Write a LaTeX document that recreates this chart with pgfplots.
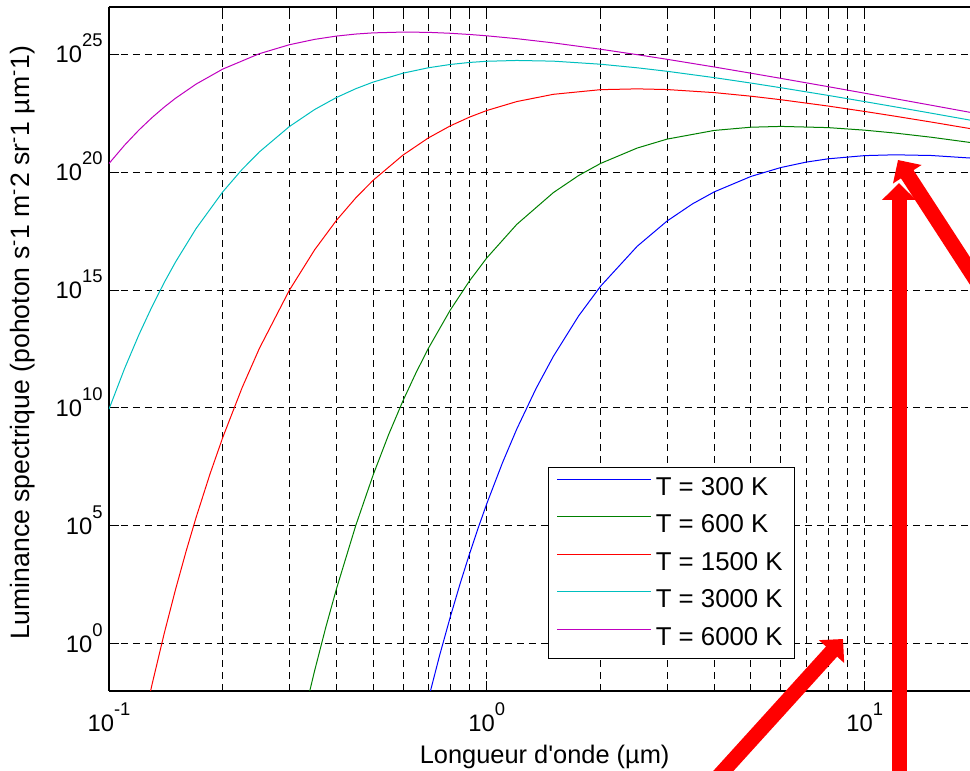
\documentclass[border=0pt]{standalone}
\usepackage{fontspec}
\setmainfont{Liberation Sans}[Ligatures=TeXOff]
\usepackage{pgfplots}
\pgfplotsset{compat=1.18}
\usepackage{pgfplotstable}
\usetikzlibrary{arrows.meta}

\definecolor{mblue}{rgb}{0,0,1}
\definecolor{mgreen}{rgb}{0,0.5,0}
\definecolor{mred}{rgb}{1,0,0}
\definecolor{mcyan}{rgb}{0,0.75,0.75}
\definecolor{mmagenta}{rgb}{0.75,0,0.75}

% exponent for the 10^n tick labels
\newcommand{\ex}[1]{\raisebox{8pt}{\fontsize{9.2}{10}\selectfont #1}}

% y = log10 of the spectral radiance
\pgfplotstableread{
x y
0.65 -4.518
0.7 -2.357
0.75 -0.493
0.8 1.130
0.85 2.556
0.9 3.818
0.95 4.942
1.0 5.949
1.1 7.677
1.2 9.104
1.35 10.828
1.5 12.188
1.75 13.904
2 15.160
2.5 16.855
3 17.927
3.5 18.651
4 19.163
5 19.816
6 20.194
7 20.423
8 20.563
10 20.699
12 20.733
15 20.704
20 20.574
}\Tthree

\pgfplotstableread{
x y
0.33 -2.854
0.35 -1.153
0.375 0.711
0.4 2.334
0.45 5.022
0.5 7.153
0.55 8.882
0.6 10.308
0.65 11.504
0.7 12.521
0.8 14.148
0.9 15.390
1.0 16.364
1.2 17.783
1.5 19.131
1.75 19.855
2 20.367
2.5 21.020
3 21.399
4 21.767
5 21.903
6 21.937
8 21.886
10 21.778
12 21.657
15 21.478
20 21.209
}\Tsix

\pgfplotstableread{
x y
0.125 -2.936
0.13 -1.722
0.14 0.439
0.15 2.303
0.16 3.926
0.17 5.352
0.185 7.192
0.2 8.745
0.225 10.855
0.25 12.523
0.3 14.984
0.35 16.700
0.4 17.956
0.45 18.908
0.5 19.651
0.6 20.722
0.7 21.447
0.8 21.959
0.9 22.332
1.0 22.612
1.2 22.990
1.5 23.298
2 23.495
2.5 23.529
3 23.500
4 23.370
5 23.218
6 23.069
8 22.801
10 22.571
12 22.373
15 22.122
20 21.785
}\Tfifteen

\pgfplotstableread{
x y
0.1 9.949
0.11 11.677
0.12 13.104
0.13 14.300
0.14 15.317
0.15 16.188
0.17 17.604
0.2 19.160
0.225 20.112
0.25 20.855
0.3 21.927
0.35 22.651
0.4 23.163
0.45 23.536
0.5 23.816
0.6 24.194
0.7 24.423
0.8 24.563
0.9 24.649
1.0 24.699
1.2 24.733
1.5 24.704
2 24.574
2.5 24.422
3 24.274
4 24.005
5 23.775
6 23.577
8 23.252
10 22.989
12 22.770
15 22.498
20 22.141
}\Tthirty

\pgfplotstableread{
x y
0.1 20.364
0.11 21.144
0.12 21.783
0.13 22.311
0.14 22.755
0.15 23.131
0.17 23.730
0.2 24.367
0.25 25.020
0.3 25.399
0.35 25.627
0.4 25.767
0.45 25.853
0.5 25.903
0.6 25.937
0.7 25.925
0.8 25.886
0.9 25.835
1.0 25.778
1.2 25.657
1.5 25.478
2 25.209
2.5 24.979
3 24.782
4 24.456
5 24.193
6 23.974
8 23.623
10 23.345
12 23.116
15 22.835
20 22.469
}\Tsixty

\begin{document}
\begin{tikzpicture}
\begin{semilogxaxis}[
  scale only axis,
  width=430.5pt, height=342pt,
  xmin=0.1, xmax=19,
  ymin=-2, ymax=27,
  axis y line*=left,
  axis line style={line width=0.6pt},
  xtick={0.1,1,10},
  xticklabels={10\ex{-1},10\ex{0},10\ex{1}},
  minor xtick={0.2,0.3,0.4,0.5,0.6,0.7,0.8,0.9,2,3,4,5,6,7,8,9},
  ytick={0,5,10,15,20,25},
  yticklabels={10\ex{0},10\ex{5},10\ex{10},10\ex{15},10\ex{20},10\ex{25}},
  minor ytick={},
  xmajorgrids, xminorgrids, ymajorgrids,
  major grid style={black, line width=0.5pt, dash pattern=on 3.5pt off 2.5pt},
  minor grid style={black, line width=0.5pt, dash pattern=on 3.5pt off 2.5pt},
  tick align=inside,
  major tick length=5pt, minor tick length=2.5pt,
  tick style={black, line width=0.5pt},
  xticklabel style={font=\fontsize{11.9}{13}\selectfont, inner sep=0pt, anchor=base, yshift=-20.5pt},
  yticklabel style={font=\fontsize{11.9}{13}\selectfont, inner sep=0pt, anchor=base east, xshift=-3pt, yshift=-4.2pt},
  xlabel={Longueur d'onde (µm)},
  xlabel style={at={(axis description cs:0.506,-0.1053)}, anchor=base, font=\fontsize{12.7}{14}\selectfont},
  ylabel={Luminance spectrique (pohoton s\textsuperscript{-}1 m\textsuperscript{-}2 sr\textsuperscript{-}1 µm\textsuperscript{-}1)},
  ylabel style={at={(axis description cs:-0.0999,0.509)}, anchor=center, font=\fontsize{13.3}{15}\selectfont},
  no markers,
  legend cell align=left,
  legend image code/.code={
    \path (0pt,4.3pt) -- (7pt,4.3pt);
    \draw[#1] (7pt,4.3pt) -- (47pt,4.3pt);},
  legend style={at={(0.797,0.047)}, anchor=south east, draw=black, line width=0.5pt,
    font=\fontsize{12.9}{15}\selectfont, inner xsep=4pt, inner ysep=3pt, row sep=4.25pt,
    /tikz/every even column/.append style={column sep=2pt}},
]
\addplot[mblue, line width=0.5pt] table {\Tthree};
\addlegendentry{T = 300 K}
\addplot[mgreen, line width=0.5pt] table {\Tsix};
\addlegendentry{T = 600 K}
\addplot[mred, line width=0.5pt] table {\Tfifteen};
\addlegendentry{T = 1500 K}
\addplot[mcyan, line width=0.5pt] table {\Tthirty};
\addlegendentry{T = 3000 K}
\addplot[mmagenta, line width=0.5pt] table {\Tsixty};
\addlegendentry{T = 6000 K}
\end{semilogxaxis}

% red arrows drawn over the chart, in pixel units of the reference
\begin{scope}[shift={([xshift=-54.5pt,yshift=3.5pt]current axis.north west)}, x=0.5pt, y=-0.5pt,
  arr/.style={draw=red, line width=7.5pt, -{Triangle[length=8.5pt,width=16.5pt]}}]
  \draw[arr] (697,800) -- (843,639);
  \draw[arr] (899,800) -- (899,183);
  \draw[arr] (1007,328) -- (898,160);
\end{scope}

\pgfresetboundingbox
\path[use as bounding box] ([xshift=-54.5pt,yshift=-40pt]current axis.south west) rectangle ([yshift=3.5pt]current axis.north east);
\end{tikzpicture}
\end{document}
